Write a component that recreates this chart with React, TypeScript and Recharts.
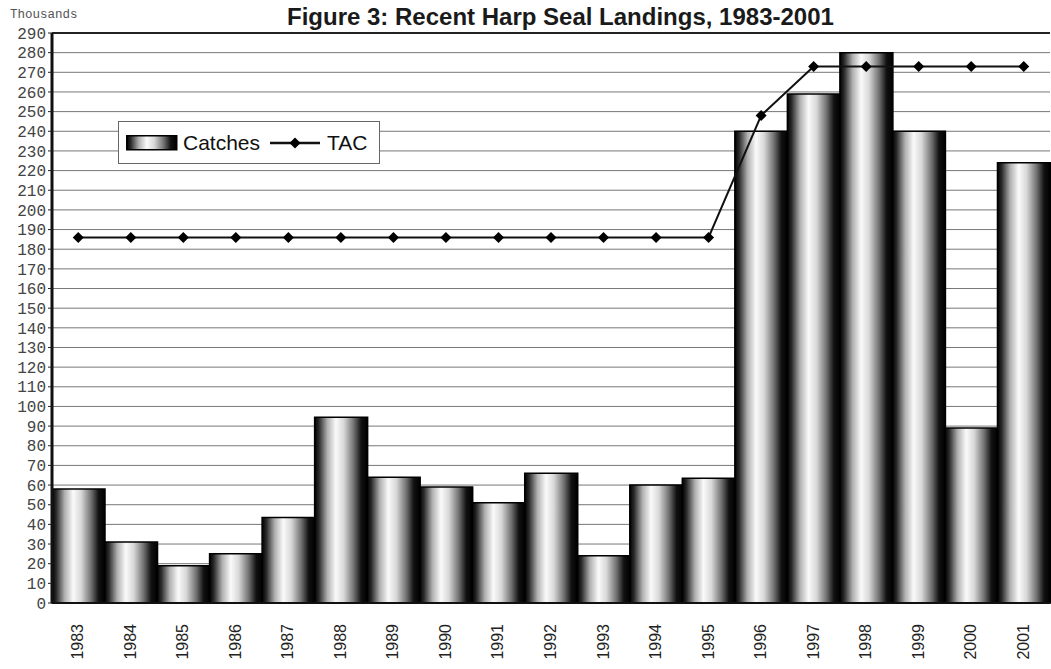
import { ComposedChart, Bar, Line, XAxis, YAxis, CartesianGrid, ReferenceLine } from 'recharts';

const years = ['1983', '1984', '1985', '1986', '1987', '1988', '1989', '1990', '1991', '1992', '1993', '1994', '1995', '1996', '1997', '1998', '1999', '2000', '2001'];
const catches = [58, 31, 19, 25, 43.5, 94.5, 64, 59, 51, 66, 24, 60, 63.5, 240, 259, 280, 240, 89, 224];
const tac = [186, 186, 186, 186, 186, 186, 186, 186, 186, 186, 186, 186, 186, 248, 273, 273, 273, 273, 273];
const yTicks = [0, 10, 20, 30, 40, 50, 60, 70, 80, 90, 100, 110, 120, 130, 140, 150, 160, 170, 180, 190, 200, 210, 220, 230, 240, 250, 260, 270, 280, 290];
const edgeTicks = [0, 1, 2, 3, 4, 5, 6, 7, 8, 9, 10, 11, 12, 13, 14, 15, 16, 17, 18, 19];

const data = years.map((year, i) => ({ year, catches: catches[i], tac: tac[i], idx: i + 0.5 }));

const Diamond = (props: any) => {
    const { cx, cy } = props;
    if (cx == null || cy == null) return null;
    return <path d={`M${cx},${cy - 5.5}L${cx + 5.5},${cy}L${cx},${cy + 5.5}L${cx - 5.5},${cy}Z`} fill="#000" />;
};

const YearTick = (props: any) => {
    const { x, y, payload } = props;
    return (
        <text
            x={x}
            y={y}
            transform={`rotate(-90, ${x}, ${y})`}
            dx={-13}
            dy={5}
            textAnchor="end"
            fontFamily="Liberation Sans, Arial, sans-serif"
            fontSize={16}
            fill="#222"
        >
            {payload.value}
        </text>
    );
};

const NoLabel = () => <g />;

export default function App() {
    return (
        <div style={{ position: 'absolute', left: 0, top: 0, width: 1051, height: 669, background: '#fff' }}>
            <ComposedChart width={1051} height={669} data={data} margin={{ top: 33, right: 1, bottom: 0, left: 0 }} barCategoryGap={0}>
                <defs>
                    <linearGradient id="cyl" x1="0" y1="0" x2="1" y2="0">
                        <stop offset="0%" stopColor="#000" />
                        <stop offset="8%" stopColor="#2a2a2a" />
                        <stop offset="24%" stopColor="#b0b0b0" />
                        <stop offset="40%" stopColor="#fafafa" />
                        <stop offset="55%" stopColor="#d8d8d8" />
                        <stop offset="74%" stopColor="#707070" />
                        <stop offset="88%" stopColor="#111" />
                        <stop offset="100%" stopColor="#000" />
                    </linearGradient>
                </defs>
                <CartesianGrid vertical={false} stroke="#777" strokeWidth={1} />
                <XAxis
                    xAxisId="edge"
                    type="number"
                    dataKey="idx"
                    domain={[0, 19]}
                    ticks={edgeTicks}
                    allowDataOverflow
                    height={0}
                    axisLine={false}
                    tickLine={{ stroke: '#222', strokeWidth: 1 }}
                    tickSize={9}
                    tick={NoLabel}
                    interval={0}
                />
                <XAxis
                    dataKey="year"
                    height={66}
                    interval={0}
                    tickLine={false}
                    axisLine={{ stroke: '#111', strokeWidth: 2 }}
                    tick={YearTick}
                />
                <YAxis
                    width={52}
                    domain={[0, 290]}
                    ticks={yTicks}
                    interval={0}
                    axisLine={{ stroke: '#111', strokeWidth: 3 }}
                    tickLine={{ stroke: '#222' }}
                    tickSize={4}
                    tick={{ fontFamily: 'Liberation Mono, monospace', fontSize: 16, fill: '#444' }}
                />
                <ReferenceLine y={290} stroke="#222" strokeWidth={2} />
                <Bar dataKey="catches" fill="url(#cyl)" stroke="#000" strokeWidth={1.5} isAnimationActive={false} />
                <Line
                    dataKey="tac"
                    type="linear"
                    stroke="#111"
                    strokeWidth={2}
                    dot={<Diamond />}
                    activeDot={false}
                    isAnimationActive={false}
                />
            </ComposedChart>
            <div style={{ position: 'absolute', left: 10, top: 8, fontFamily: 'Liberation Mono, monospace', fontSize: 12.5, color: '#555' }}>
                Thousands
            </div>
            <div
                style={{
                    position: 'absolute',
                    left: 287,
                    top: 3,
                    fontFamily: 'Liberation Sans, Arial, sans-serif',
                    fontWeight: 'bold',
                    fontSize: 24,
                    color: '#1a1a1a',
                    whiteSpace: 'nowrap',
                }}
            >
                Figure 3: Recent Harp Seal Landings, 1983-2001
            </div>
            <div
                style={{
                    position: 'absolute',
                    left: 118,
                    top: 121,
                    width: 260,
                    height: 41,
                    background: '#fff',
                    border: '1px solid #666',
                    display: 'flex',
                    alignItems: 'center',
                    fontFamily: 'Liberation Sans, Arial, sans-serif',
                    fontSize: 21,
                    color: '#111',
                }}
            >
                <svg width={52} height={16} style={{ marginLeft: 7 }}>
                    <rect x={0.75} y={0.75} width={50} height={14} fill="url(#cyl)" stroke="#000" strokeWidth={1.5} />
                </svg>
                <span style={{ marginLeft: 5 }}>Catches</span>
                <svg width={52} height={16} style={{ marginLeft: 10 }}>
                    <line x1={0} y1={8} x2={50} y2={8} stroke="#111" strokeWidth={2.5} />
                    <path d="M25,2.5L30.5,8L25,13.5L19.5,8Z" fill="#000" />
                </svg>
                <span style={{ marginLeft: 5 }}>TAC</span>
            </div>
        </div>
    );
}
